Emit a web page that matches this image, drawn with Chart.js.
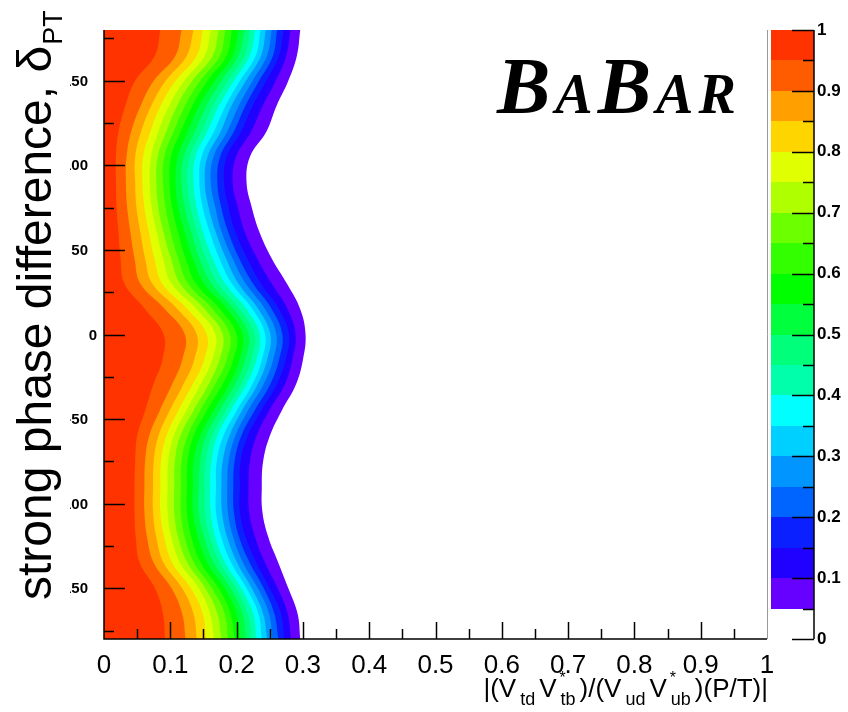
<!DOCTYPE html>
<html>
<head>
<meta charset="utf-8">
<script src="https://cdn.jsdelivr.net/npm/chart.js@4.4.1/dist/chart.umd.min.js"></script>
<style>
  html, body { margin: 0; padding: 0; background: #fff; }
  #wrap { width: 848px; height: 712px; }
</style>
</head>
<body>
<div id="wrap"><canvas id="contour"></canvas></div>
<script>
// strong phase difference (deg), one row every 15 deg
const deltaPT = [-180, -165, -150, -135, -120, -105, -90, -75, -60, -45, -30, -15, 0,
                 15, 30, 45, 60, 75, 90, 105, 120, 135, 150, 165, 180];

// |P/T| where each contour level is crossed, one value per phase above
const edge95 = [.092,.089,.077,.054,.048,.046,.046,.047,.050,.062,.074,.088,.090,.062,.031,.025,.022,.019,.018,.018,.022,.032,.047,.077,.085];
const edge90 = [.123,.118,.102,.075,.065,.061,.061,.062,.068,.084,.102,.118,.122,.092,.055,.046,.040,.035,.033,.034,.041,.055,.075,.108,.117];
const edge85 = [.140,.135,.118,.090,.079,.074,.074,.075,.082,.099,.119,.136,.140,.111,.073,.062,.055,.049,.047,.047,.056,.071,.093,.125,.135];
const edge80 = [.154,.149,.131,.103,.091,.085,.085,.086,.094,.112,.133,.151,.155,.126,.088,.076,.068,.061,.058,.059,.070,.085,.108,.140,.149];
const edge75 = [.166,.160,.143,.115,.102,.096,.096,.097,.105,.124,.145,.163,.168,.140,.102,.089,.080,.072,.069,.071,.082,.098,.121,.152,.161];
const edge70 = [.177,.171,.153,.126,.112,.106,.106,.107,.115,.135,.157,.174,.179,.152,.115,.101,.090,.082,.079,.081,.094,.110,.133,.164,.173];
const edge65 = [.187,.182,.163,.136,.122,.116,.116,.117,.126,.145,.167,.185,.190,.164,.127,.112,.101,.093,.089,.091,.105,.122,.145,.175,.183];
const edge60 = [.197,.191,.173,.146,.132,.125,.125,.126,.135,.155,.178,.195,.200,.175,.139,.123,.112,.103,.099,.101,.116,.133,.156,.185,.193];
const edge55 = [.206,.200,.182,.156,.142,.134,.134,.135,.145,.165,.188,.204,.209,.186,.151,.134,.122,.112,.108,.111,.126,.143,.167,.194,.203];
const edge50 = [.214,.209,.191,.166,.151,.143,.143,.145,.154,.174,.197,.213,.218,.196,.162,.144,.132,.122,.117,.120,.137,.154,.177,.203,.212];
const edge45 = [.223,.217,.199,.175,.160,.152,.152,.153,.163,.183,.206,.222,.227,.205,.172,.154,.141,.131,.126,.129,.147,.164,.187,.212,.220];
const edge40 = [.230,.225,.207,.183,.168,.161,.160,.162,.171,.191,.214,.230,.235,.215,.183,.164,.150,.140,.135,.138,.156,.173,.196,.220,.228];
const edge35 = [.238,.233,.215,.192,.177,.169,.169,.170,.180,.200,.223,.238,.243,.224,.193,.174,.160,.149,.144,.147,.166,.183,.205,.229,.236];
const edge30 = [.246,.240,.223,.201,.186,.178,.177,.179,.189,.208,.231,.246,.251,.233,.203,.184,.169,.158,.152,.156,.176,.192,.214,.237,.244];
const edge25 = [.254,.249,.232,.210,.195,.187,.186,.188,.198,.217,.240,.255,.260,.243,.214,.194,.178,.168,.161,.165,.186,.203,.224,.246,.253];
const edge20 = [.263,.257,.241,.220,.204,.196,.195,.197,.207,.227,.250,.264,.269,.253,.225,.204,.188,.177,.171,.175,.196,.213,.234,.255,.261];
const edge15 = [.272,.267,.250,.230,.214,.205,.205,.206,.217,.237,.260,.274,.279,.264,.237,.216,.199,.188,.181,.185,.207,.224,.245,.264,.271];
const edge10 = [.282,.277,.262,.243,.228,.219,.218,.220,.230,.249,.272,.284,.289,.277,.253,.231,.213,.202,.194,.199,.222,.239,.259,.275,.281];
const edge05 = [.296,.292,.278,.263,.248,.239,.238,.240,.250,.268,.289,.300,.304,.296,.276,.253,.235,.223,.215,.220,.245,.260,.278,.291,.296];

// contour levels (lower edge of each band) and the palette, high to low
const levels = [0.95, 0.90, 0.85, 0.80, 0.75, 0.70, 0.65, 0.60, 0.55, 0.50,
                0.45, 0.40, 0.35, 0.30, 0.25, 0.20, 0.15, 0.10, 0.05];
const levelColors = ['#ff3300', '#ff5c00', '#ffa000', '#ffd500', '#e0ff00', '#b0ff00',
                     '#6cff00', '#33ff00', '#00ff00', '#00ff3c', '#00ff7a', '#00ffaa',
                     '#00ffff', '#00d0ff', '#0095ff', '#0064ff', '#0a20ff', '#2000ff', '#6600ff'];
const edges = [edge95, edge90, edge85, edge80, edge75, edge70, edge65, edge60, edge55, edge50,
               edge45, edge40, edge35, edge30, edge25, edge20, edge15, edge10, edge05];

const xTickLabels = ['0', '0.1', '0.2', '0.3', '0.4', '0.5', '0.6', '0.7', '0.8', '0.9', '1'];
const yTickValues = [-150, -100, -50, 0, 50, 100, 150];
const zTickLabels = ['0', '0.1', '0.2', '0.3', '0.4', '0.5', '0.6', '0.7', '0.8', '0.9', '1'];

// each edge fills leftwards to |P/T| = 0; higher levels are painted on top
const datasets = edges.map((edge, i) => ({
  label: 'CL ' + levels[i].toFixed(2),
  data: edge.map((v, j) => ({ x: v, y: deltaPT[j] })),
  backgroundColor: levelColors[i],
  borderWidth: 0,
  pointRadius: 0,
  tension: 0.4,
  fill: { value: 0 }
}));

const SANS = 'Arial, "Liberation Sans", Helvetica, sans-serif';

// axes, colour bar, titles and logo in the ROOT look
const rootFrame = {
  id: 'rootFrame',
  afterDraw(chart) {
    const { ctx, chartArea: a, scales: { x, y, z } } = chart;
    ctx.save();

    // frame
    ctx.strokeStyle = '#999';
    ctx.lineWidth = 1;
    ctx.beginPath();
    ctx.moveTo(a.right + 0.5, a.top);
    ctx.lineTo(a.right + 0.5, a.bottom);
    ctx.stroke();
    ctx.strokeStyle = '#000';
    ctx.lineWidth = 1.5;
    ctx.beginPath();
    ctx.moveTo(a.left, a.top);
    ctx.lineTo(a.left, a.bottom);
    ctx.lineTo(a.right, a.bottom);
    ctx.stroke();

    // y ticks (inside)
    for (let v = -175; v <= 175; v += 25) {
      const py = Math.round(y.getPixelForValue(v)) + 0.5;
      const len = v % 50 === 0 ? 21 : 10;
      ctx.beginPath();
      ctx.moveTo(a.left, py);
      ctx.lineTo(a.left + len, py);
      ctx.stroke();
    }
    // x ticks (inside)
    for (let k = 1; k < 20; k++) {
      const px = Math.round(x.getPixelForValue(k * 0.05)) + 0.5;
      const len = k % 2 === 0 ? 17 : 10;
      ctx.beginPath();
      ctx.moveTo(px, a.bottom);
      ctx.lineTo(px, a.bottom - len);
      ctx.stroke();
    }

    // y tick labels, cut off on the left like the original
    ctx.save();
    ctx.beginPath();
    ctx.rect(70, 0, a.left - 70, chart.height);
    ctx.clip();
    ctx.fillStyle = '#000';
    ctx.font = 'bold 15px ' + SANS;
    ctx.textAlign = 'right';
    ctx.textBaseline = 'middle';
    yTickValues.forEach(v => {
      ctx.fillText(String(v), v === 0 ? 97 : 88, y.getPixelForValue(v) + 1);
    });
    ctx.restore();

    // x tick labels
    ctx.fillStyle = '#000';
    ctx.font = '26px ' + SANS;
    ctx.textAlign = 'center';
    ctx.textBaseline = 'alphabetic';
    xTickLabels.forEach((t, k) => {
      ctx.fillText(t, x.getPixelForValue(k / 10), 673);
    });

    // x title |(Vtd V*tb)/(Vud V*ub)(P/T)|
    const parts = [
      { t: '|(V', s: 'm' }, { t: 'td', s: 'sub' }, { t: 'V', s: 'm' }, { t: 'tb', s: 'sub', star: true },
      { t: ')/(V', s: 'm' }, { t: 'ud', s: 'sub' }, { t: 'V', s: 'm' }, { t: 'ub', s: 'sub', star: true },
      { t: ')(P/T)|', s: 'm' }
    ];
    const gap = 4;
    const fontOf = p => (p.s === 'm' ? '26px ' : '18px ') + SANS;
    let total = 0;
    parts.forEach((p, i) => {
      ctx.font = fontOf(p);
      p.w = ctx.measureText(p.t).width;
      total += p.w + (i ? gap : 0);
    });
    let cx = 768 - total;
    ctx.textAlign = 'left';
    parts.forEach(p => {
      ctx.font = fontOf(p);
      ctx.fillText(p.t, cx, p.s === 'm' ? 697 : 705);
      if (p.star) {
        ctx.font = '16px ' + SANS;
        ctx.fillText('*', cx - 1, 683);
      }
      cx += p.w + gap;
    });

    // y title, rotated
    ctx.save();
    ctx.translate(51, 600);
    ctx.rotate(-Math.PI / 2);
    ctx.font = '48px ' + SANS;
    const main = 'strong phase difference, \u03b4';
    ctx.fillText(main, 0, 0);
    const mw = ctx.measureText(main).width;
    ctx.font = '27px ' + SANS;
    ctx.fillText('PT', mw + 1, 11);
    ctx.restore();

    // colour bar
    const bx0 = 771, bx1 = 814;
    levels.forEach((lv, i) => {
      const top = Math.round(z.getPixelForValue(lv + 0.05));
      const bot = Math.round(z.getPixelForValue(lv));
      ctx.fillStyle = levelColors[i];
      ctx.fillRect(bx0, top, bx1 - bx0, bot - top);
    });
    ctx.strokeStyle = '#000';
    ctx.lineWidth = 1.5;
    ctx.beginPath();
    ctx.moveTo(bx1, z.getPixelForValue(1));
    ctx.lineTo(bx1, z.getPixelForValue(0));
    ctx.stroke();
    for (let k = 0; k <= 20; k++) {
      const py = Math.round(z.getPixelForValue(k * 0.05)) + 0.5;
      const len = k % 2 === 0 ? 22 : 11;
      ctx.beginPath();
      ctx.moveTo(bx1 - len, py);
      ctx.lineTo(bx1, py);
      ctx.stroke();
    }
    ctx.fillStyle = '#000';
    ctx.font = 'bold 17px ' + SANS;
    ctx.textAlign = 'left';
    ctx.textBaseline = 'middle';
    zTickLabels.forEach((t, k) => {
      ctx.fillText(t, 817, z.getPixelForValue(k / 10));
    });

    // BaBar logo
    const logo = [{ t: 'B', f: 80 }, { t: 'A', f: 56 }, { t: 'B', f: 80 }, { t: 'A', f: 56 }, { t: 'R', f: 56 }];
    let lx = 497;
    ctx.textBaseline = 'alphabetic';
    logo.forEach(l => {
      ctx.font = 'italic bold ' + l.f + 'px "Liberation Serif", "Times New Roman", serif';
      ctx.fillText(l.t, lx, 113);
      lx += ctx.measureText(l.t).width + 5;
    });

    ctx.restore();
  }
};

new Chart(document.getElementById('contour').getContext('2d'), {
  type: 'line',
  data: { datasets },
  options: {
    indexAxis: 'y',
    responsive: true,
    maintainAspectRatio: false,
    animation: false,
    layout: { padding: { left: 104, right: 81, top: 30, bottom: 73 } },
    scales: {
      x: { type: 'linear', min: 0, max: 1, display: false },
      y: { type: 'linear', min: -180, max: 180, display: false },
      z: { type: 'linear', axis: 'y', position: 'right', min: 0, max: 1, display: false }
    },
    plugins: {
      legend: { display: false },
      tooltip: { enabled: false },
      filler: { propagate: false }
    }
  },
  plugins: [rootFrame]
});
</script>
</body>
</html>
